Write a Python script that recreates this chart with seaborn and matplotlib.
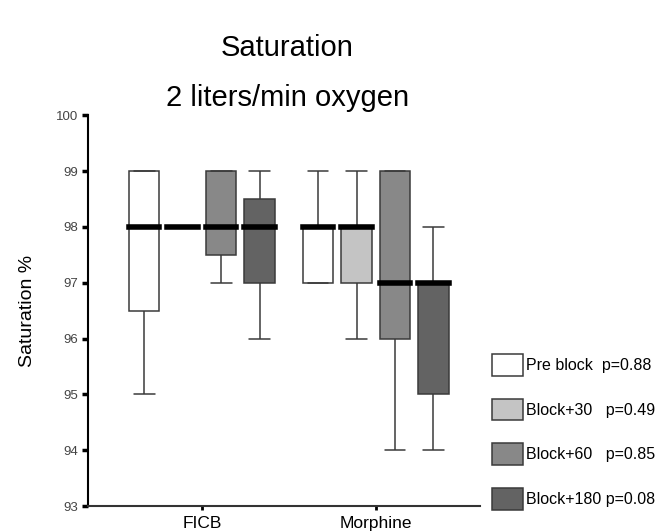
import pandas as pd
import seaborn as sns
import matplotlib.pyplot as plt

# five-number summaries: low whisker, Q1, median, Q3, high whisker
groups = ["FICB", "Morphine"]
times = ["Pre block", "Block+30", "Block+60", "Block+180"]
p_values = ["p=0.88", "p=0.49", "p=0.85", "p=0.08"]

ficb_pre = [95, 96.5, 98, 99, 99]
ficb_30 = [98, 98, 98, 98, 98]
ficb_60 = [97, 97.5, 98, 99, 99]
ficb_180 = [96, 97, 98, 98.5, 99]
morph_pre = [97, 97, 98, 98, 99]
morph_30 = [96, 97, 98, 98, 99]
morph_60 = [94, 96, 97, 99, 99]
morph_180 = [94, 95, 97, 97, 98]

colors = ["#ffffff", "#c4c4c4", "#888888", "#636363"]

summaries = {
    "FICB": [ficb_pre, ficb_30, ficb_60, ficb_180],
    "Morphine": [morph_pre, morph_30, morph_60, morph_180],
}
rows = []
for g in groups:
    for t, vals in zip(times, summaries[g]):
        for v in vals:
            rows.append({"group": g, "time": t, "sat": v})
df = pd.DataFrame(rows)

sns.set_style("ticks")
plt.rcParams["font.family"] = ["Liberation Sans", "DejaVu Sans"]
plt.rcParams["text.color"] = "black"
plt.rcParams["axes.labelcolor"] = "black"
plt.rcParams["xtick.color"] = "black"
plt.rcParams["ytick.color"] = "black"

fig = plt.figure(figsize=(6.71, 5.31), dpi=100)
ax = fig.add_axes([0.131, 0.047, 0.584, 0.736])

sns.boxplot(
    data=df,
    x="group",
    y="sat",
    hue="time",
    order=groups,
    hue_order=times,
    palette=colors,
    whis=(0, 100),
    width=0.885,
    gap=0.2,
    linewidth=1.1,
    linecolor="#3a3a3a",
    medianprops={"color": "black", "linewidth": 4, "solid_capstyle": "projecting"},
    capwidths=0.12,
    ax=ax,
)

ax.set_xlim(-0.655, 1.598)
ax.set_ylim(93, 100)
ax.set_yticks(range(93, 101))
ax.set_xlabel("")
ax.set_ylabel("Saturation %", fontsize=14, labelpad=14)
sns.despine(ax=ax)
ax.spines["left"].set_bounds(93, 100)
ax.spines["left"].set_linewidth(1.5)
ax.spines["bottom"].set_linewidth(1.5)
ax.spines["left"].set_color("black")
ax.spines["bottom"].set_color("#333333")
ax.tick_params(axis="y", length=4, width=2.5, labelsize=9.5, labelcolor="#444444", pad=3)
ax.tick_params(axis="x", length=3, width=2, labelsize=12.5, pad=4)

handles, _ = ax.get_legend_handles_labels()
labels = [
    f"{times[0]}  {p_values[0]}",
    f"{times[1]}   {p_values[1]}",
    f"{times[2]}   {p_values[2]}",
    f"{times[3]} {p_values[3]}",
]
ax.legend(
    handles,
    labels,
    loc="upper left",
    bbox_to_anchor=(0.99, 0.43),
    frameon=False,
    fontsize=11.5,
    handlelength=1.95,
    handleheight=1.7,
    handletextpad=0.2,
    labelspacing=1.45,
    borderaxespad=0.6,
)

fig.text(0.428, 0.910, "Saturation", ha="center", va="center", fontsize=21)
fig.text(0.428, 0.815, "2 liters/min oxygen", ha="center", va="center", fontsize=21)

fig.savefig("out.png", dpi=100)
